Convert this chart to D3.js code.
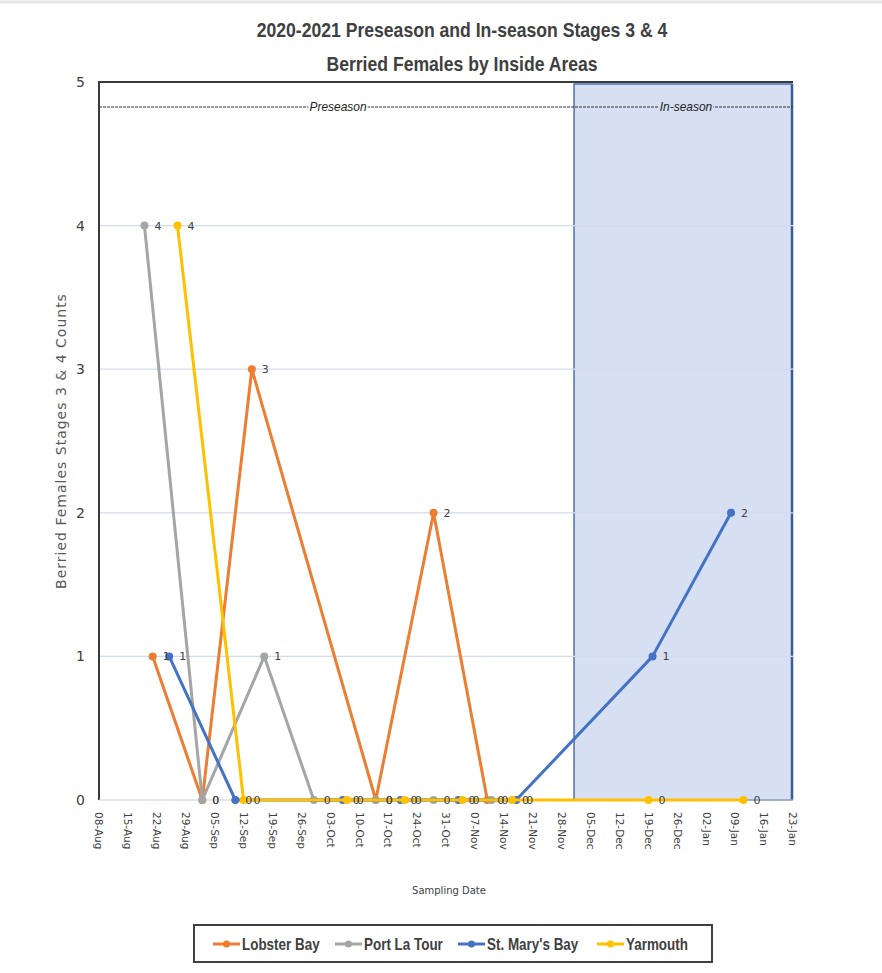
<!DOCTYPE html>
<html>
<head>
<meta charset="utf-8">
<script src="https://cdn.jsdelivr.net/npm/d3@7"></script>
<style>
  body { margin: 0; background: #fff; }
  #chart { width: 882px; height: 973px; }
  text { fill: #404040; }
</style>
</head>
<body>
<div id="chart"></div>
<script>
// data
var seriesNames = ["Lobster Bay", "Port La Tour", "St. Mary's Bay", "Yarmouth"];
var seriesColors = ["#ED7D31", "#A5A5A5", "#4472C4", "#FFC000"];

var lobsterDates = ["2020-08-21", "2020-09-02", "2020-09-14", "2020-10-14", "2020-10-28", "2020-11-10"];
var lobsterCounts = [1, 0, 3, 0, 2, 0];

var portDates = ["2020-08-19", "2020-09-02", "2020-09-17", "2020-09-29", "2020-10-14", "2020-10-28", "2020-11-11"];
var portCounts = [4, 0, 1, 0, 0, 0, 0];

var stMaryDates = ["2020-08-25", "2020-09-10", "2020-10-06", "2020-10-20", "2020-11-03", "2020-11-17", "2020-12-20", "2021-01-08"];
var stMaryCounts = [1, 0, 0, 0, 0, 0, 1, 2];

var yarmouthDates = ["2020-08-27", "2020-09-12", "2020-10-07", "2020-10-21", "2020-11-04", "2020-11-16", "2020-12-19", "2021-01-11"];
var yarmouthCounts = [4, 0, 0, 0, 0, 0, 0, 0];

var axisStart = "2020-08-08", axisEnd = "2021-01-23";
var inSeasonStart = "2020-12-01";
var yTicks = [0, 1, 2, 3, 4, 5];

var parse = d3.timeParse("%Y-%m-%d");

var allSeries = [
  {name: seriesNames[0], color: seriesColors[0], dates: lobsterDates, vals: lobsterCounts},
  {name: seriesNames[1], color: seriesColors[1], dates: portDates, vals: portCounts},
  {name: seriesNames[2], color: seriesColors[2], dates: stMaryDates, vals: stMaryCounts},
  {name: seriesNames[3], color: seriesColors[3], dates: yarmouthDates, vals: yarmouthCounts}
].map(function(s) {
  s.points = s.dates.map(function(d, i) { return {date: parse(d), v: s.vals[i]}; });
  return s;
});

var width = 882, height = 973;
var plotLeft = 99, plotRight = 793, plotTop = 82, plotBottom = 800;

var svg = d3.select("#chart").append("svg")
  .attr("width", width)
  .attr("height", height);

var narrow = "'Liberation Sans Narrow', 'Arial Narrow', 'Liberation Sans', sans-serif";

// thin band at the very top
svg.append("line").attr("x1", 0).attr("x2", width).attr("y1", 2).attr("y2", 2)
  .attr("stroke", "#e6e6e6").attr("stroke-width", 3);

var x = d3.scaleTime()
  .domain([parse(axisStart), parse(axisEnd)])
  .range([plotLeft, plotRight]);

var y = d3.scaleLinear()
  .domain([0, 5])
  .range([plotBottom, plotTop]);

// in-season shaded box
var boxX = x(parse(inSeasonStart));
svg.append("rect")
  .attr("x", boxX)
  .attr("y", plotTop + 2)
  .attr("width", plotRight - boxX - 1)
  .attr("height", plotBottom - plotTop - 2)
  .attr("fill", "#D6E0F2")
  .attr("stroke", "#4A6FB5")
  .attr("stroke-width", 1.5);
svg.append("line")
  .attr("x1", plotRight - 1).attr("x2", plotRight - 1)
  .attr("y1", plotTop + 2).attr("y2", plotBottom)
  .attr("stroke", "#3A5C9C").attr("stroke-width", 2.5);

// gridlines
svg.append("g").selectAll("line")
  .data(yTicks.filter(function(d) { return d > 0 && d < 5; }))
  .enter().append("line")
  .attr("x1", plotLeft).attr("x2", plotRight)
  .attr("y1", function(d) { return y(d); })
  .attr("y2", function(d) { return y(d); })
  .attr("stroke", "#D3DCEC")
  .attr("stroke-width", 1.2);

// frame: top and left
svg.append("path")
  .attr("d", "M" + plotLeft + "," + plotBottom + "V" + plotTop + "H" + plotRight)
  .attr("fill", "none")
  .attr("stroke", "#3a3a3a")
  .attr("stroke-width", 2);

// baseline
svg.append("line")
  .attr("x1", plotLeft).attr("x2", plotRight)
  .attr("y1", plotBottom).attr("y2", plotBottom)
  .attr("stroke", "#D0D0D0").attr("stroke-width", 1.2);

// dashed season line
var seasonY = 107;
svg.append("line")
  .attr("x1", plotLeft).attr("x2", plotRight)
  .attr("y1", seasonY).attr("y2", seasonY)
  .attr("stroke", "#333")
  .attr("stroke-width", 1.2)
  .attr("stroke-dasharray", "3,1");

[["Preseason", 338, "#fff"], ["In-season", 686, "#D6E0F2"]].forEach(function(t) {
  var txt = svg.append("text")
    .attr("transform", "translate(" + t[1] + "," + (seasonY + 4) + ") scale(0.92,1)")
    .attr("text-anchor", "middle")
    .attr("font-family", narrow)
    .attr("font-style", "italic")
    .attr("font-size", 13)
    .style("fill", "#222")
    .text(t[0]);
  var w = txt.node().getBBox().width * 0.92;
  svg.insert("rect", function() { return txt.node(); })
    .attr("x", t[1] - w / 2 - 1).attr("y", seasonY - 4)
    .attr("width", w + 2).attr("height", 8)
    .attr("fill", t[2]);
});

// y axis labels
svg.append("g").selectAll("text")
  .data(yTicks)
  .enter().append("text")
  .attr("x", 85)
  .attr("y", function(d) { return y(d) + 5; })
  .attr("text-anchor", "end")
  .attr("font-family", "'DejaVu Sans', sans-serif")
  .attr("font-size", 14)
  .style("fill", "#404040")
  .text(function(d) { return d; });

// x axis labels, weekly
var xTicks = d3.timeDay.range(parse(axisStart), d3.timeDay.offset(parse(axisEnd), 1), 7);
svg.append("g").selectAll("text")
  .data(xTicks)
  .enter().append("text")
  .attr("transform", function(d) { return "translate(" + x(d) + "," + (plotBottom + 12) + ") rotate(90)"; })
  .attr("dy", "0.35em")
  .attr("font-family", "'DejaVu Sans', sans-serif")
  .attr("font-size", 10.5)
  .style("fill", "#404040")
  .text(d3.timeFormat("%d-%b"));

// axis titles
svg.append("text")
  .attr("transform", "translate(66," + ((plotTop + plotBottom) / 2) + ") rotate(-90)")
  .attr("text-anchor", "middle")
  .attr("font-family", "'DejaVu Sans', sans-serif")
  .attr("font-size", 14)
  .attr("letter-spacing", 1)
  .style("fill", "#595959")
  .text("Berried Females Stages 3 & 4 Counts");

svg.append("text")
  .attr("x", 449).attr("y", 894)
  .attr("text-anchor", "middle")
  .attr("font-family", "'DejaVu Sans', sans-serif")
  .attr("font-size", 10)
  .style("fill", "#404040")
  .text("Sampling Date");

// title
var titleLines = ["2020-2021 Preseason and In-season Stages 3 & 4", "Berried Females by Inside Areas"];
svg.append("g").selectAll("text")
  .data(titleLines)
  .enter().append("text")
  .attr("transform", function(d, i) { return "translate(462," + (37 + i * 34) + ") scale(0.88,1)"; })
  .attr("text-anchor", "middle")
  .attr("font-family", narrow)
  .attr("font-weight", "bold")
  .attr("font-size", 20)
  .style("fill", "#404040")
  .text(function(d) { return d; });

// series
var line = d3.line()
  .x(function(d) { return x(d.date); })
  .y(function(d) { return y(d.v); });

allSeries.forEach(function(s) {
  var g = svg.append("g");
  g.append("path")
    .datum(s.points)
    .attr("d", line)
    .attr("fill", "none")
    .attr("stroke", s.color)
    .attr("stroke-width", 3)
    .attr("stroke-linejoin", "round");
  g.selectAll("circle")
    .data(s.points)
    .enter().append("circle")
    .attr("cx", function(d) { return x(d.date); })
    .attr("cy", function(d) { return y(d.v); })
    .attr("r", 4)
    .attr("fill", s.color);
});

// data labels on top
allSeries.forEach(function(s) {
  svg.append("g").selectAll("text")
    .data(s.points)
    .enter().append("text")
    .attr("x", function(d) { return x(d.date) + 10; })
    .attr("y", function(d) { return y(d.v) + 4; })
    .attr("font-family", "'DejaVu Sans', sans-serif")
    .attr("font-size", 11)
    .style("fill", "#404040")
    .text(function(d) { return d.v; });
});

// legend
var legend = svg.append("g");
legend.append("rect")
  .attr("x", 194).attr("y", 925)
  .attr("width", 518).attr("height", 37)
  .attr("fill", "#fff")
  .attr("stroke", "#404040")
  .attr("stroke-width", 2);

var legendX = [213, 335, 458, 597];
allSeries.forEach(function(s, i) {
  var lg = legend.append("g").attr("transform", "translate(" + legendX[i] + ",944)");
  lg.append("line").attr("x1", 0).attr("x2", 27)
    .attr("stroke", s.color).attr("stroke-width", 3);
  lg.append("circle").attr("cx", 13.5).attr("r", 3.5).attr("fill", s.color);
  lg.append("text")
    .attr("transform", "translate(29,6) scale(0.84,1)")
    .attr("font-family", narrow)
    .attr("font-weight", "bold")
    .attr("font-size", 16)
    .style("fill", "#404040")
    .text(s.name);
});
</script>
</body>
</html>
